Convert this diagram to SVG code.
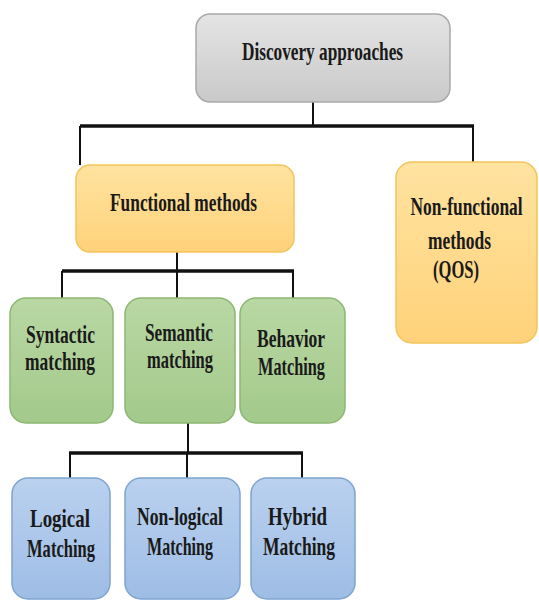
<svg xmlns="http://www.w3.org/2000/svg" width="539" height="603" viewBox="0 0 539 603">
  <defs>
    <linearGradient id="gGrey" x1="0" y1="0" x2="0" y2="1">
      <stop offset="0" stop-color="#e4e4e4"/>
      <stop offset="1" stop-color="#c9c9c9"/>
    </linearGradient>
    <linearGradient id="gOrange" x1="0" y1="0" x2="0" y2="1">
      <stop offset="0" stop-color="#ffe3a0"/>
      <stop offset="1" stop-color="#ffd27a"/>
    </linearGradient>
    <linearGradient id="gGreen" x1="0" y1="0" x2="0" y2="1">
      <stop offset="0" stop-color="#b9d8a4"/>
      <stop offset="1" stop-color="#a3c98b"/>
    </linearGradient>
    <linearGradient id="gBlue" x1="0" y1="0" x2="0" y2="1">
      <stop offset="0" stop-color="#bad1ef"/>
      <stop offset="1" stop-color="#9ebde5"/>
    </linearGradient>
  </defs>
  <style>
    .grey { fill: url(#gGrey); stroke: #a9a9a9; stroke-width: 1.5; }
    .orange { fill: url(#gOrange); stroke: #f3c45c; stroke-width: 1.5; }
    .green { fill: url(#gGreen); stroke: #8db673; stroke-width: 1.5; }
    .blue { fill: url(#gBlue); stroke: #7fa4d0; stroke-width: 1.5; }
    text { font-family: "Liberation Serif", "Times New Roman", serif; font-weight: bold; font-size: 26px; fill: #1a1a1a; text-anchor: middle; }
    .wire { stroke: #111; stroke-width: 2; fill: none; }
    .bus { stroke: #111; stroke-width: 3.5; fill: none; }
  </style>

  <rect width="539" height="603" fill="#ffffff"/>

  <!-- connectors -->
  <g id="connectors">
    <line class="wire" x1="313" y1="102" x2="313" y2="126"/>
    <path class="bus" d="M80 126 H474"/>
    <path class="wire" d="M80 126 V165 M473 126 V162"/>

    <line class="wire" x1="177" y1="252" x2="177" y2="271"/>
    <path class="bus" d="M62 271 H294"/>
    <path class="wire" d="M62 271 V298 M177 271 V298 M293 271 V298"/>

    <line class="wire" x1="188" y1="423" x2="188" y2="453"/>
    <path class="bus" d="M69 453 H303"/>
    <path class="wire" d="M70 453 V478 M187 453 V478 M302 453 V478"/>
  </g>

  <g id="discovery">
    <rect class="grey" x="196" y="14" width="254" height="88" rx="14"/>
    <text x="322.5" y="60" textLength="161" lengthAdjust="spacingAndGlyphs">Discovery approaches</text>
  </g>

  <g id="functional">
    <rect class="orange" x="76" y="165" width="218" height="87" rx="14"/>
    <text x="183.5" y="211" textLength="147" lengthAdjust="spacingAndGlyphs">Functional methods</text>
  </g>

  <g id="nonfunctional">
    <rect class="orange" x="396" y="162" width="141" height="181" rx="16"/>
    <!-- long label: condensed with a horizontal scale so it stays inside the box -->
    <text transform="translate(466.5 215) scale(0.66 1)" x="0" y="0" textLength="170" lengthAdjust="spacingAndGlyphs">Non-functional</text>
    <text x="459.5" y="249" textLength="63" lengthAdjust="spacingAndGlyphs">methods</text>
    <text x="456" y="278" textLength="46" lengthAdjust="spacingAndGlyphs">(QOS)</text>
  </g>

  <g id="syntactic">
    <rect class="green" x="10" y="298" width="103" height="125" rx="16"/>
    <text x="60.5" y="343" textLength="69" lengthAdjust="spacingAndGlyphs">Syntactic</text>
    <text x="60" y="370" textLength="70" lengthAdjust="spacingAndGlyphs">matching</text>
  </g>

  <g id="semantic">
    <rect class="green" x="125" y="298" width="110" height="125" rx="16"/>
    <text x="179" y="341" textLength="68" lengthAdjust="spacingAndGlyphs">Semantic</text>
    <text x="180" y="368" textLength="66" lengthAdjust="spacingAndGlyphs">matching</text>
  </g>

  <g id="behavior">
    <rect class="green" x="240" y="298" width="105" height="125" rx="16"/>
    <text x="291" y="347" textLength="68" lengthAdjust="spacingAndGlyphs">Behavior</text>
    <text x="291.5" y="375" textLength="67" lengthAdjust="spacingAndGlyphs">Matching</text>
  </g>

  <g id="logical">
    <rect class="blue" x="12" y="478" width="98" height="121" rx="16"/>
    <text x="60" y="527" textLength="60" lengthAdjust="spacingAndGlyphs">Logical</text>
    <text x="61" y="557" textLength="68" lengthAdjust="spacingAndGlyphs">Matching</text>
  </g>

  <g id="nonlogical">
    <rect class="blue" x="125" y="478" width="115" height="121" rx="16"/>
    <text x="180" y="525" textLength="86" lengthAdjust="spacingAndGlyphs">Non-logical</text>
    <text x="180" y="555" textLength="66" lengthAdjust="spacingAndGlyphs">Matching</text>
  </g>

  <g id="hybrid">
    <rect class="blue" x="251" y="478" width="104" height="121" rx="16"/>
    <text x="297.5" y="525" textLength="59" lengthAdjust="spacingAndGlyphs">Hybrid</text>
    <text x="299" y="555" textLength="72" lengthAdjust="spacingAndGlyphs">Matching</text>
  </g>
</svg>
